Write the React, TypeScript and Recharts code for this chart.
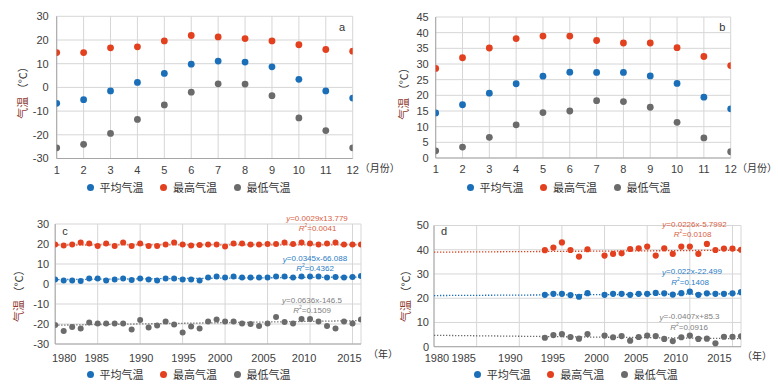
import React from 'react';
import { ScatterChart, Scatter, XAxis, YAxis, CartesianGrid, Legend, Customized } from 'recharts';

const BLUE = '#1a6fb8';
const RED = '#e2401e';
const GRAY = '#6b6b6b';
const FONT = '"Liberation Sans", "Noto Sans CJK SC", sans-serif';
const CJK = '"Noto Sans CJK SC", sans-serif';

const SERIES_NAMES = ['平均气温', '最高气温', '最低气温'];

// Panel a: monthly
const months = [1, 2, 3, 4, 5, 6, 7, 8, 9, 10, 11, 12];
const aAvg = [-6.7, -5.2, -1.5, 2.1, 5.9, 9.8, 11.1, 10.7, 8.7, 3.4, -1.5, -4.5];
const aMax = [14.7, 14.7, 16.7, 17.1, 19.6, 21.9, 21.3, 20.6, 19.6, 18.0, 16.0, 15.3];
const aMin = [-25.5, -24.0, -19.4, -13.5, -7.4, -2.0, 1.5, 1.4, -3.5, -12.9, -18.2, -25.5];

// Panel b: monthly
const bAvg = [14.4, 17.0, 20.7, 23.7, 26.1, 27.4, 27.3, 27.3, 26.2, 23.8, 19.4, 15.7];
const bMax = [28.6, 32.0, 35.1, 38.1, 38.9, 38.9, 37.5, 36.7, 36.7, 35.2, 32.4, 29.5];
const bMin = [2.3, 3.5, 6.6, 10.6, 14.5, 15.0, 18.3, 18.0, 16.2, 11.4, 6.4, 2.0];

// Panel c: yearly 1980-2016
const cYears = [1980, 1981, 1982, 1983, 1984, 1985, 1986, 1987, 1988, 1989, 1990, 1991, 1992, 1993, 1994, 1995, 1996, 1997, 1998, 1999, 2000, 2001, 2002, 2003, 2004, 2005, 2006, 2007, 2008, 2009, 2010, 2011, 2012, 2013, 2014, 2015, 2016];
const cAvg = [2.3, 1.8, 1.8, 1.5, 2.7, 2.7, 1.8, 2.3, 2.7, 2.0, 2.7, 2.3, 1.8, 2.7, 2.7, 2.3, 2.3, 1.7, 3.3, 3.7, 3.2, 3.7, 3.2, 3.3, 3.3, 3.3, 3.8, 3.7, 3.3, 3.7, 3.8, 3.7, 3.3, 3.5, 3.2, 3.5, 4.0];
const cMax = [19.8, 19.3, 19.8, 20.8, 20.2, 19.0, 20.2, 19.0, 20.7, 19.0, 20.3, 19.0, 19.0, 19.8, 20.7, 19.7, 19.3, 19.5, 19.8, 19.8, 18.7, 20.2, 20.2, 19.8, 19.7, 20.0, 20.0, 20.7, 20.0, 20.8, 20.3, 19.8, 20.2, 20.8, 19.8, 19.8, 19.8];
const cMin = [-20.5, -23.5, -21.5, -22.3, -19.2, -19.8, -19.8, -19.7, -19.8, -22.8, -18.0, -21.7, -20.8, -18.8, -20.2, -24.3, -21.2, -22.2, -18.8, -17.8, -18.8, -18.8, -19.7, -20.0, -21.0, -19.8, -16.5, -19.0, -19.8, -17.5, -17.5, -18.8, -21.0, -22.2, -18.8, -19.8, -17.8];
const cTrendYears = [1980, 2016];
const cTrendAvg = [2.2, 3.5];
const cTrendMax = [19.5, 19.6];
const cTrendMin = [-20.6, -18.3];

// Panel d: yearly (1999 missing)
const dYears = [1993, 1994, 1995, 1996, 1997, 1998, 2000, 2001, 2002, 2003, 2004, 2005, 2006, 2007, 2008, 2009, 2010, 2011, 2012, 2013, 2014, 2015, 2016];
const dAvg = [21.4, 21.8, 21.8, 21.3, 20.6, 22.1, 21.4, 21.8, 21.8, 21.4, 21.8, 21.8, 22.2, 22.0, 21.5, 22.1, 22.7, 21.4, 22.0, 21.8, 21.8, 22.0, 22.5];
const dMax = [39.8, 40.9, 43.0, 39.9, 37.2, 40.2, 37.6, 38.3, 38.5, 40.3, 40.6, 41.3, 37.6, 40.6, 38.3, 41.3, 41.3, 38.3, 42.4, 39.9, 40.5, 40.5, 40.0];
const dMin = [3.7, 4.8, 5.2, 4.0, 3.3, 5.2, 4.6, 3.9, 4.4, 2.5, 4.0, 4.6, 4.4, 3.2, 2.3, 3.9, 4.6, 3.2, 3.3, 1.4, 4.1, 4.1, 4.3];
const dTrendYears = [1980, 2016];
const dTrendAvg = [21.1, 21.8];
const dTrendMax = [39.0, 39.8];
const dTrendMin = [4.7, 3.3];

const monthTicks = months;
const yearTicks = [1980, 1985, 1990, 1995, 2000, 2005, 2010, 2015];
const aYTicks = [-30, -20, -10, 0, 10, 20, 30];
const bYTicks = [0, 5, 10, 15, 20, 25, 30, 35, 40, 45];
const cYTicks = [-30, -20, -10, 0, 10, 20, 30];
const dYTicks = [0, 10, 20, 30, 40, 50];

// label nudges (style only) for the year axes, as placed in the original figure
const cLabelShift: Record<number, number> = { 1980: 9, 1985: -1, 1990: 1, 1995: 1, 2000: -5, 2005: -4, 2010: -6, 2015: -3 };
const dLabelShift: Record<number, number> = { 1980: 3, 1985: -13, 1990: -9, 1995: -9, 2000: -8, 2005: -11, 2010: -14, 2015: -13 };

const toPts = (xs: number[], ys: number[]) => xs.map((x, i) => ({ x, y: ys[i] }));

type Note = { x: number; y: number; color: string; kind: 'eq' | 'r2'; text: string };

const LegendContent = (props: any) => {
  const items = (props.payload || [])
    .filter((p: any) => p.type !== 'none' && SERIES_NAMES.indexOf(p.value) >= 0)
    .sort((a: any, b: any) => SERIES_NAMES.indexOf(a.value) - SERIES_NAMES.indexOf(b.value));
  return (
    <div style={{ display: 'flex', height: 14, alignItems: 'center' }}>
      {items.map((it: any, i: number) => (
        <div key={i} style={{ display: 'flex', alignItems: 'center', width: 73.5 }}>
          <span style={{ display: 'inline-block', width: 7, height: 7, borderRadius: '50%', background: it.color }} />
          <span style={{ marginLeft: 6, fontSize: 11, fontFamily: CJK, color: '#333', lineHeight: '14px', whiteSpace: 'nowrap' }}>{it.value}</span>
        </div>
      ))}
    </div>
  );
};

function Panel(p: any) {
  const dot = (color: string) => (props: any) => (
    <circle cx={props.cx} cy={props.cy} r={p.r} fill={color} />
  );
  const empty = () => <g />;
  const colors = [BLUE, RED, GRAY];
  const XTick = (props: any) => {
    const off = (p.xOffsets && p.xOffsets[props.payload.value]) || 0;
    return (
      <text x={props.x + off} y={props.y} dy="0.71em" textAnchor="middle" fill="#404040" fontSize={11} fontFamily={FONT}>
        {props.payload.value}
      </text>
    );
  };
  return (
    <div style={{ position: 'absolute', left: p.left, top: p.top }}>
      <ScatterChart width={p.width} height={p.height} margin={p.margin}>
        <CartesianGrid stroke="#d6d6d6" />
        <XAxis
          type="number"
          dataKey="x"
          domain={p.xDomain}
          ticks={p.xTicks}
          interval={0}
          allowDataOverflow
          height={20}
          tickLine={false}
          tickSize={p.xTickSize}
          axisLine={{ stroke: '#a6a6a6' }}
          tick={XTick}
          label={{ value: p.suffix, position: 'right', offset: p.suffixOffset, fill: '#333', fontSize: 10, fontFamily: CJK }}
        />
        <YAxis
          type="number"
          dataKey="y"
          domain={p.yDomain}
          ticks={p.yTicks}
          interval={0}
          allowDataOverflow
          width={40}
          tickLine={false}
          tickSize={p.yTickSize}
          axisLine={{ stroke: '#a6a6a6' }}
          tick={{ fill: '#404040', fontSize: 11, fontFamily: FONT }}
        />
        {(p.trends || []).map((t: any, i: number) => (
          <Scatter
            key={'t' + i}
            data={t.data}
            line={{ stroke: t.color, strokeWidth: 1.3, strokeDasharray: '1.3 1.7' }}
            shape={empty}
            legendType="none"
            isAnimationActive={false}
          />
        ))}
        {p.series.map((s: any[], i: number) => (
          <Scatter
            key={'s' + i}
            name={SERIES_NAMES[i]}
            data={s}
            fill={colors[i]}
            shape={dot(colors[i])}
            legendType="circle"
            isAnimationActive={false}
          />
        ))}
        <Legend
          layout="horizontal"
          verticalAlign="middle"
          align="center"
          content={LegendContent}
          wrapperStyle={{ left: p.legendLeft, top: p.legendTop, width: 240, height: 14, right: 'auto', bottom: 'auto' }}
        />
        <Customized
          component={() => (
            <g>
              <text
                x={p.ylabel.x}
                y={p.ylabel.y}
                transform={`rotate(-90, ${p.ylabel.x}, ${p.ylabel.y})`}
                textAnchor="middle"
                dominantBaseline="central"
                fontSize={11}
                fontFamily={CJK}
              >
                <tspan fill="#8b3a2e">气温</tspan>
                <tspan fill="#333"> （°C）</tspan>
              </text>
              <text x={p.letter.x} y={p.letter.y} fontSize={11} fontFamily={FONT} fill="#333" dominantBaseline="central" textAnchor="middle">
                {p.letter.text}
              </text>
              {(p.notes || []).map((n: Note, i: number) =>
                n.kind === 'eq' ? (
                  <text key={i} x={n.x} y={n.y} textAnchor="middle" dominantBaseline="central" fontSize={8} fontFamily={FONT} fill={n.color}>
                    <tspan fontStyle="italic">y</tspan>
                    {n.text}
                  </text>
                ) : (
                  <text key={i} x={n.x} y={n.y} textAnchor="middle" dominantBaseline="central" fontSize={8} fontFamily={FONT} fill={n.color}>
                    <tspan fontStyle="italic">R</tspan>
                    <tspan dy={-3} fontSize={5}>2</tspan>
                    <tspan dy={3}>{n.text}</tspan>
                  </text>
                )
              )}
            </g>
          )}
        />
      </ScatterChart>
    </div>
  );
}

const RED_T = '#d9603f';
const BLUE_T = '#2a7cc4';
const GRAY_T = '#808080';

export default function App() {
  return (
    <div style={{ position: 'absolute', left: 0, top: 0, width: 778, height: 386, background: '#fff' }}>
      <Panel
        left={0}
        top={0}
        width={420}
        height={200}
        margin={{ top: 16.3, right: 67.3, bottom: 21.5, left: 16.7 }}
        xDomain={[1, 12]}
        xTicks={monthTicks}
        yDomain={[-30, 30]}
        yTicks={aYTicks}
        xTickSize={5.6}
        yTickSize={6}
        suffix="（月份）"
        suffixOffset={7}
        r={3.4}
        series={[toPts(months, aAvg), toPts(months, aMax), toPts(months, aMin)]}
        legendLeft={86.5}
        legendTop={180}
        ylabel={{ x: 22, y: 90 }}
        letter={{ text: 'a', x: 342, y: 26.7 }}
      />
      <Panel
        left={389}
        top={0}
        width={389}
        height={200}
        margin={{ top: 17, right: 47.3, bottom: 22, left: 6.7 }}
        xDomain={[1, 12]}
        xTicks={monthTicks}
        yDomain={[0, 45]}
        yTicks={bYTicks}
        xTickSize={5.3}
        yTickSize={5}
        suffix="（月份）"
        suffixOffset={6.3}
        r={3.4}
        series={[toPts(months, bAvg), toPts(months, bMax), toPts(months, bMin)]}
        legendLeft={77.5}
        legendTop={180}
        ylabel={{ x: 14.3, y: 91 }}
        letter={{ text: 'b', x: 333.3, y: 26.7 }}
      />
      <Panel
        left={0}
        top={195}
        width={420}
        height={191}
        margin={{ top: 29, right: 59, bottom: 22, left: 15.2 }}
        xDomain={[1980, 2016]}
        xTicks={yearTicks}
        xOffsets={cLabelShift}
        yDomain={[-30, 30]}
        yTicks={cYTicks}
        xTickSize={8}
        yTickSize={4}
        suffix="（年）"
        suffixOffset={7}
        r={3}
        trends={[
          { color: BLUE, data: toPts(cTrendYears, cTrendAvg) },
          { color: RED, data: toPts(cTrendYears, cTrendMax) },
          { color: GRAY, data: toPts(cTrendYears, cTrendMin) },
        ]}
        series={[toPts(cYears, cAvg), toPts(cYears, cMax), toPts(cYears, cMin)]}
        legendLeft={86.5}
        legendTop={172.3}
        ylabel={{ x: 18, y: 98.3 }}
        letter={{ text: 'c', x: 65, y: 36 }}
        notes={[
          { kind: 'eq', x: 317, y: 23.3, color: RED_T, text: '=0.0029x13.779' },
          { kind: 'r2', x: 317.5, y: 33.3, color: RED_T, text: '=0.0041' },
          { kind: 'eq', x: 315, y: 63.7, color: BLUE_T, text: '=0.0345x-66.088' },
          { kind: 'r2', x: 315, y: 73.3, color: BLUE_T, text: '=0.4362' },
          { kind: 'eq', x: 312, y: 105, color: GRAY_T, text: '=0.0636x-146.5' },
          { kind: 'r2', x: 312, y: 115, color: GRAY_T, text: '=0.1509' },
        ]}
      />
      <Panel
        left={389}
        top={195}
        width={389}
        height={191}
        margin={{ top: 30.5, right: 37, bottom: 19.3, left: 5 }}
        xDomain={[1980, 2016]}
        xTicks={yearTicks}
        xOffsets={dLabelShift}
        yDomain={[0, 50]}
        yTicks={dYTicks}
        xTickSize={5}
        yTickSize={3}
        suffix="（年）"
        suffixOffset={1}
        r={3.1}
        trends={[
          { color: BLUE, data: toPts(dTrendYears, dTrendAvg) },
          { color: RED, data: toPts(dTrendYears, dTrendMax) },
          { color: GRAY, data: toPts(dTrendYears, dTrendMin) },
        ]}
        series={[toPts(dYears, dAvg), toPts(dYears, dMax), toPts(dYears, dMin)]}
        legendLeft={84.8}
        legendTop={172}
        ylabel={{ x: 16, y: 98.3 }}
        letter={{ text: 'd', x: 55, y: 36 }}
        notes={[
          { kind: 'eq', x: 305.5, y: 29, color: RED_T, text: '=0.0226x-5.7992' },
          { kind: 'r2', x: 303.5, y: 39, color: RED_T, text: '=0.0108' },
          { kind: 'eq', x: 303, y: 76.7, color: BLUE_T, text: '=0.022x-22.499' },
          { kind: 'r2', x: 301, y: 86.7, color: BLUE_T, text: '=0.1408' },
          { kind: 'eq', x: 300.5, y: 121.7, color: GRAY_T, text: '=-0.0407x+85.3' },
          { kind: 'r2', x: 300, y: 131.7, color: GRAY_T, text: '=0.0916' },
        ]}
      />
    </div>
  );
}
